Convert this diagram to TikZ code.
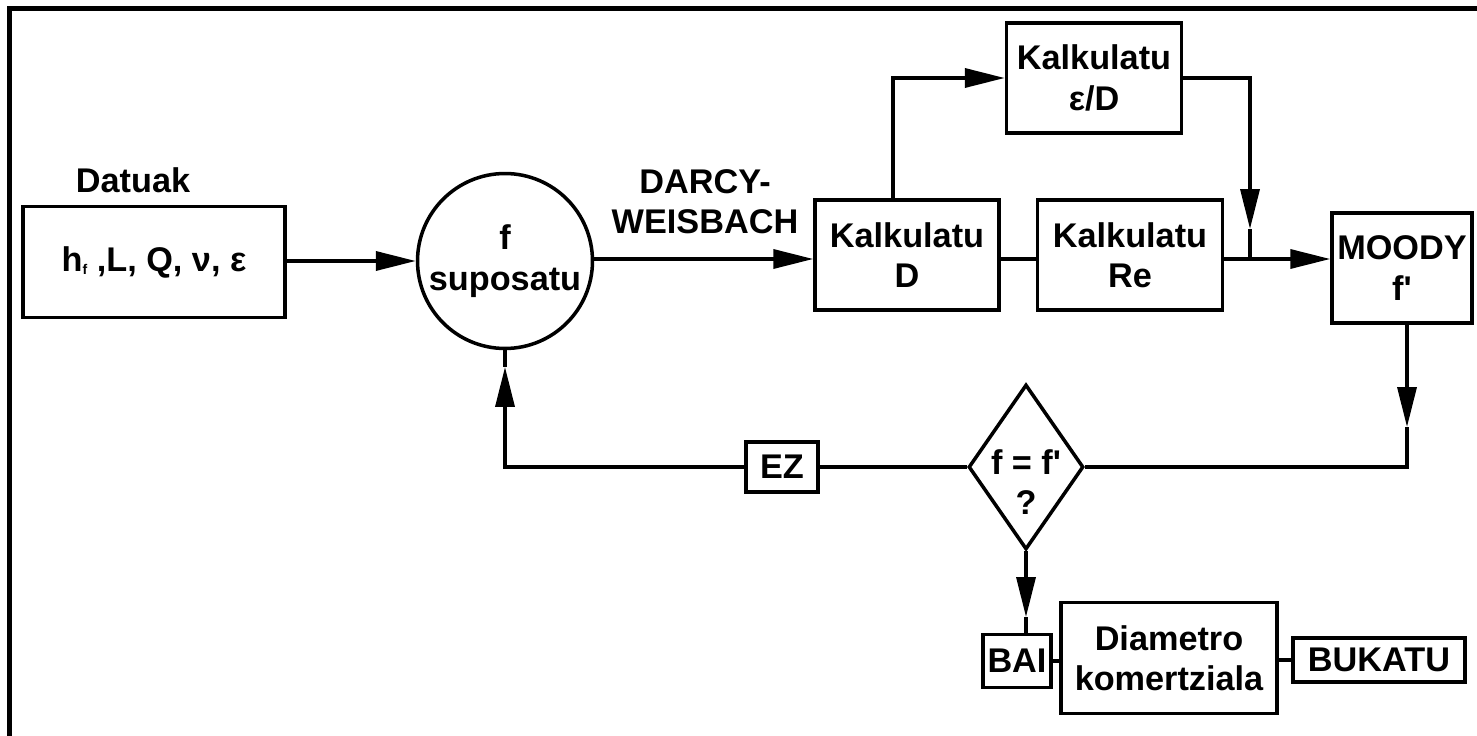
\documentclass[tikz,border=0pt]{standalone}
\usepackage{fontspec}
\setmainfont{Liberation Sans}[Ligatures=TeXOff]
\usetikzlibrary{arrows.meta, shapes.geometric, calc}

\begin{document}
\begin{tikzpicture}[
  x=0.02cm, y=-0.02cm,
  every node/.style={font=\fontsize{19.5}{23}\selectfont\bfseries},
  blok/.style={
    draw, line width=2pt, minimum height=2.2cm, align=center, inner sep=1pt,
  },
  txt/.style={align=center, inner sep=0pt},
  lijn/.style={line width=2pt},
  gezi/.style={line width=2pt, -{Triangle[length=0.8cm, width=0.38cm]}},
]
  \useasboundingbox (0,0) rectangle (1477,736);
  \draw[line width=2.85pt] (9.5,745) -- (9.5,9) -- (1490,9);

  % Input data and first guess
  \node (datuak) at (133,180) {Datuak};
  \node[blok, minimum width=5.24cm, minimum height=2.22cm] (datu) at (154,262)
    {h\raisebox{-2pt}{\fontsize{8}{8}\selectfont f} ,L, Q, ν, ε};
  \node[circle, draw, line width=2pt, minimum size=3.5cm, inner sep=0pt, align=center]
    (fsup) at (505,261) {f\\suposatu};
  \node[txt] (darcy) at (705,202) {DARCY-\\WEISBACH};

  % Calculations
  \node[blok, minimum width=3.68cm] (kalkD) at (907,255) {Kalkulatu\\D};
  \node[blok, minimum width=3.7cm] (kalkRe) at (1130,255) {Kalkulatu\\Re};
  \node[blok, minimum width=3.5cm] (kalkED) at (1094,78) {Kalkulatu\\ε/D};
  \node[blok, minimum width=2.8cm, inner sep=0pt] (moody) at (1402,268) {MOODY\\f'};

  % Check and end
  \node[diamond, draw, line width=2pt, minimum width=2.3cm, minimum height=3.3cm,
    inner sep=0pt, label={[txt, yshift=-0.3cm]center:f = f'\\?}] (galde) at (1026,467) {};
  \node[blok, minimum width=1.44cm, minimum height=1cm] (ez) at (782,467) {EZ};
  \node[blok, minimum width=1.36cm, minimum height=1.06cm, inner sep=0pt] (bai) at (1017,661) {BAI};
  \node[blok, minimum width=4.32cm, minimum height=2.22cm] (diam) at (1169,658) {Diametro\\komertziala};
  \node[blok, minimum width=3.44cm, minimum height=0.88cm] (buka) at (1379,660) {BUKATU};

  % Connectors
  \coordinate (jn) at (1250,259);
  \coordinate (pE) at (1250,229);
  \coordinate (pM) at (1407,427);
  \coordinate (pZ) at (505,367);
  \coordinate (pB) at (1026,617);

  \draw[gezi] (datu.east |- fsup) -- (fsup.west);
  \draw[gezi] (fsup.east |- jn) -- (kalkD.west |- jn);
  \draw[gezi] ([xshift=-0.28cm]kalkD.north) |- (kalkED.west);
  \draw[gezi] (kalkED.east) -| (pE);
  \draw[lijn] (pE) -- (jn);
  \draw[lijn] (kalkD.east |- jn) -- (kalkRe.west |- jn);
  \draw[lijn] (kalkRe.east |- jn) -- (jn);
  \draw[gezi] (jn) -- (moody.west |- jn);
  \draw[gezi] (moody.south -| pM) -- (pM);
  \draw[lijn] (pM) |- (galde.east);
  \draw[lijn] (galde.west) -- (ez.east);
  \draw[gezi] (ez.west) -| (pZ);
  \draw[lijn] (pZ) -- (fsup.south);
  \draw[gezi] (galde.south) -- (pB);
  \draw[lijn] (pB) -- (pB |- bai.north);
  \draw[lijn] (bai.east) -- (bai.east -| diam.west);
  \draw[lijn] (diam.east |- buka.west) -- (buka.west);
\end{tikzpicture}
\end{document}
